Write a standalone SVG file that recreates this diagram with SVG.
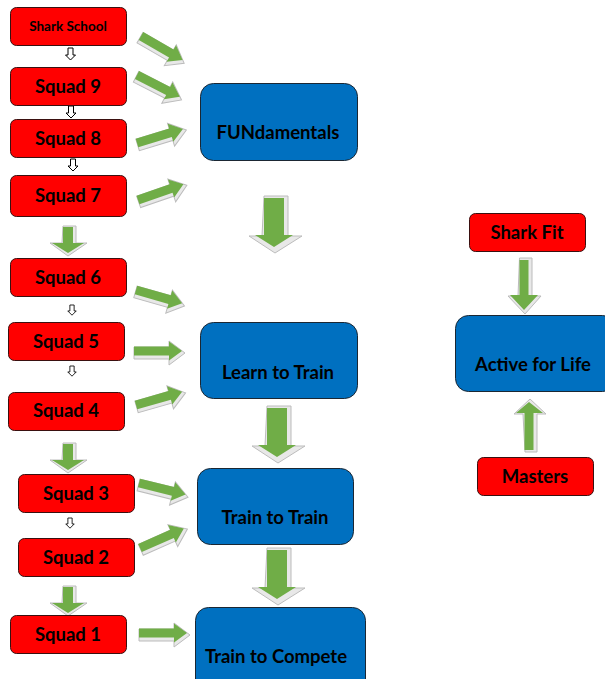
<svg xmlns="http://www.w3.org/2000/svg" xmlns:xlink="http://www.w3.org/1999/xlink" width="605" height="679" viewBox="0 0 605 679">
<style>
.red{fill:#FF0000;stroke:#3a1010;stroke-width:1}
.blue{fill:#0070C0;stroke:#1b2733;stroke-width:1}
.t{font-family:Lato,"Open Sans","Liberation Sans",sans-serif;font-weight:bold;fill:#000;text-anchor:middle}
.ga{fill:#70AD47}
.sh{fill:#e8e8e8;stroke:#bcbcbc;stroke-width:1}
.ho{fill:#fff;stroke:#000;stroke-width:1}
</style>
<defs>
<path id="a1" d="M0,-4.5 L35,-4.5 L35,-9.5 L48,0 L35,9.5 L35,4.5 L0,4.5 Z"/>
<path id="s1" d="M-1,-6 L34,-6 L34,-12 L50,0 L34,12 L34,6 L-1,6 Z"/>
<path id="dbig" d="M-10,0 L10,0 L10,37 L19,37 L0,49 L-19,37 L-10,37 Z"/>
<path id="dbigs" d="M-10,-2 L14,-2 L14,38 L28,38 L1,55 L-25,38 L-12,38 Z"/>
<path id="dsm" d="M-5,0 L5,0 L5,16 L16,16 L0,26 L-16,16 L-5,16 Z"/>
<path id="dsms" d="M-5,-1 L8,-1 L8,16 L19,16 L0,29 L-18,16 L-6,16 Z"/>
<path id="hol" d="M-2.5,0 L2.5,0 L2.5,7 L5,7 L0,12 L-5,7 L-2.5,7 Z"/>
</defs>

<g id="connectors">
<use href="#hol" class="ho" transform="translate(70.5,48)"/>
<use href="#hol" class="ho" transform="translate(71,106)"/>
<use href="#hol" class="ho" transform="translate(73,159)"/>
<use href="#hol" class="ho" transform="translate(72,305) scale(0.85)"/>
<use href="#hol" class="ho" transform="translate(72,366) scale(0.85)"/>
<use href="#hol" class="ho" transform="translate(70,518) scale(0.85)"/>

<g transform="translate(141,36) rotate(30)"><use href="#s1" class="sh" transform="translate(1,2)"/><use href="#a1" class="ga"/></g>
<g transform="translate(137,75) rotate(27)"><use href="#s1" class="sh" transform="translate(1,2)"/><use href="#a1" class="ga"/></g>
<g transform="translate(137,143) rotate(-17)"><use href="#s1" class="sh" transform="translate(1,2)"/><use href="#a1" class="ga"/></g>
<g transform="translate(138,200) rotate(-19)"><use href="#s1" class="sh" transform="translate(1,2)"/><use href="#a1" class="ga"/></g>
<g transform="translate(136,290) rotate(16)"><use href="#s1" class="sh" transform="translate(1,2)"/><use href="#a1" class="ga"/></g>
<g transform="translate(134,351)"><use href="#s1" class="sh" transform="translate(1,2)"/><use href="#a1" class="ga"/></g>
<g transform="translate(136,405) rotate(-16)"><use href="#s1" class="sh" transform="translate(1,2)"/><use href="#a1" class="ga"/></g>
<g transform="translate(139,483) rotate(14)"><use href="#s1" class="sh" transform="translate(1,2)"/><use href="#a1" class="ga"/></g>
<g transform="translate(140,548) rotate(-24)"><use href="#s1" class="sh" transform="translate(1,2)"/><use href="#a1" class="ga"/></g>
<g transform="translate(139,633)"><use href="#s1" class="sh" transform="translate(1,2)"/><use href="#a1" class="ga"/></g>

<g transform="translate(274,198)"><use href="#dbigs" class="sh"/><use href="#dbig" class="ga"/></g>
<g transform="translate(277,408)"><use href="#dbigs" class="sh"/><use href="#dbig" class="ga"/></g>
<g transform="translate(277,550)"><use href="#dbigs" class="sh"/><use href="#dbig" class="ga"/></g>

<g transform="translate(68,227)"><use href="#dsms" class="sh"/><use href="#dsm" class="ga"/></g>
<g transform="translate(68,444)"><use href="#dsms" class="sh"/><use href="#dsm" class="ga"/></g>
<g transform="translate(68,587)"><use href="#dsms" class="sh"/><use href="#dsm" class="ga"/></g>

<path class="sh" d="M519.5,258 L532,258 L532,296 L541,296 L525,314 L508,296 L518,296 Z"/>
<path class="ga" d="M519.5,260 L528.5,260 L528.5,295 L538,295 L524,310 L510,295 L519.5,295 Z"/>
<path class="sh" d="M525,452 L537,452 L537,414 L546,414 L530,399 L514,414 L523,414 Z"/>
<path class="ga" d="M524.5,450 L533.5,450 L533.5,413 L543,413 L529,402 L516,413 L524.5,413 Z"/>
</g>

<g id="shark-school"><rect class="red" x="10.5" y="7.5" width="116" height="38" rx="6"/><text class="t" x="68" y="31" font-size="13.5">Shark School</text></g>
<g id="squad-9"><rect class="red" x="10.5" y="67.5" width="116" height="38" rx="6"/><text class="t" x="68" y="93" font-size="18.5">Squad 9</text></g>
<g id="squad-8"><rect class="red" x="10.5" y="119.5" width="116" height="38" rx="6"/><text class="t" x="68" y="145" font-size="18.5">Squad 8</text></g>
<g id="squad-7"><rect class="red" x="10.5" y="175.5" width="116" height="41" rx="6"/><text class="t" x="68" y="202" font-size="18.5">Squad 7</text></g>
<g id="squad-6"><rect class="red" x="10.5" y="258.5" width="116" height="38" rx="6"/><text class="t" x="68" y="284" font-size="18.5">Squad 6</text></g>
<g id="squad-5"><rect class="red" x="8.5" y="322.5" width="116" height="38" rx="6"/><text class="t" x="66" y="348" font-size="18.5">Squad 5</text></g>
<g id="squad-4"><rect class="red" x="8.5" y="392.5" width="116" height="38" rx="6"/><text class="t" x="66" y="417" font-size="18.5">Squad 4</text></g>
<g id="squad-3"><rect class="red" x="18.5" y="474.5" width="116" height="38" rx="6"/><text class="t" x="76" y="500" font-size="18.5">Squad 3</text></g>
<g id="squad-2"><rect class="red" x="18.5" y="538.5" width="116" height="38" rx="6"/><text class="t" x="76" y="564" font-size="18.5">Squad 2</text></g>
<g id="squad-1"><rect class="red" x="10.5" y="615.5" width="116" height="38" rx="6"/><text class="t" x="68" y="641" font-size="18.5">Squad 1</text></g>

<g id="fundamentals"><rect class="blue" x="200.5" y="83.5" width="157" height="77" rx="13"/><text class="t" x="278" y="139" font-size="18.5">FUNdamentals</text></g>
<g id="learn-to-train"><rect class="blue" x="200.5" y="322.5" width="157" height="76" rx="13"/><text class="t" x="278" y="379" font-size="18.5">Learn to Train</text></g>
<g id="train-to-train"><rect class="blue" x="197.5" y="468.5" width="156" height="76" rx="13"/><text class="t" x="275" y="524" font-size="18.5">Train to Train</text></g>
<g id="train-to-compete"><rect class="blue" x="195.5" y="607.5" width="170" height="90" rx="13"/><text class="t" x="276" y="663" font-size="18.5">Train to Compete</text></g>
<g id="active-for-life"><rect class="blue" x="455.5" y="315.5" width="160" height="76" rx="13"/><text class="t" x="533" y="371" font-size="18.5">Active for Life</text></g>

<g id="shark-fit"><rect class="red" x="469.5" y="213.5" width="116" height="38" rx="6"/><text class="t" x="527" y="239" font-size="18.5">Shark Fit</text></g>
<g id="masters"><rect class="red" x="477.5" y="457.5" width="116" height="38" rx="6"/><text class="t" x="535" y="483" font-size="18.5">Masters</text></g>
</svg>
